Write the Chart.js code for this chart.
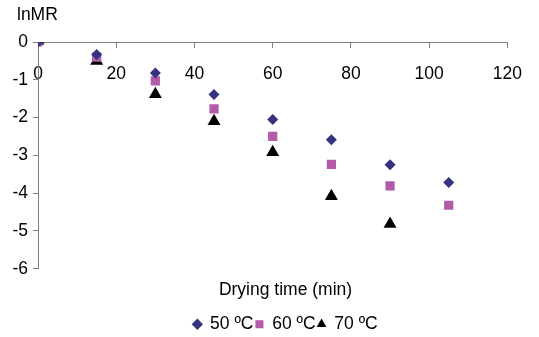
<!DOCTYPE html>
<html>
<head>
<meta charset="utf-8">
<script src="https://cdn.jsdelivr.net/npm/chart.js@4/dist/chart.umd.min.js"></script>
<style>
html,body{margin:0;padding:0;background:#fff;}
#wrap{width:539px;height:337px;position:relative;}
</style>
</head>
<body>
<div id="wrap"><canvas id="c"></canvas></div>
<script>
const times = [0, 15, 30, 45, 60, 75, 90, 105];
const times70 = [0, 15, 30, 45, 60, 75, 90];
const lnMR50 = [0, -0.33, -0.82, -1.39, -2.05, -2.59, -3.25, -3.72];
const lnMR60 = [0, -0.40, -1.03, -1.77, -2.50, -3.24, -3.81, -4.32];
const lnMR70 = [0.03, -0.50, -1.38, -2.10, -2.92, -4.08, -4.82];
const seriesLabels = ['50 ºC', '60 ºC', '70 ºC'];
const xTicks = [0, 20, 40, 60, 80, 100, 120];
const yTicks = [0, -1, -2, -3, -4, -5, -6];
const yTitle = 'lnMR';
const xTitle = 'Drying time (min)';

const FONT = "'Liberation Sans', Arial, sans-serif";
const FS = 17.5;
const pts = (xs, ys) => xs.map((x, i) => ({x: x, y: ys[i]}));

const yTitlePlugin = {
  id: 'yTitleText',
  afterDraw(chart) {
    const ctx = chart.ctx;
    ctx.save();
    ctx.font = FS + 'px ' + FONT;
    ctx.fillStyle = '#000';
    ctx.textBaseline = 'middle';
    ctx.textAlign = 'left';
    ctx.fillText(yTitle, chart.chartArea.left - 21, 15);
    ctx.restore();
  }
};

new Chart(document.getElementById('c'), {
  type: 'scatter',
  data: {
    datasets: [
      {label: seriesLabels[0], data: pts(times, lnMR50), pointStyle: 'rectRot', pointRadius: 5.5, backgroundColor: '#33337f', borderColor: '#33337f', borderWidth: 0},
      {label: seriesLabels[1], data: pts(times, lnMR60), pointStyle: 'rect', pointRadius: 6.5, backgroundColor: '#b35aab', borderColor: '#b35aab', borderWidth: 0},
      {label: seriesLabels[2], data: pts(times70, lnMR70), pointStyle: 'triangle', pointRadius: 7.5, backgroundColor: '#000000', borderColor: '#000000', borderWidth: 0}
    ]
  },
  options: {
    responsive: true,
    maintainAspectRatio: false,
    animation: false,
    events: [],
    layout: {padding: {left: 8, right: -24, top: 42, bottom: -6}},
    scales: {
      x: {
        type: 'linear',
        position: {y: 0},
        min: 0, max: 120,
        afterBuildTicks: (s) => { s.ticks = xTicks.map(v => ({value: v})); },
        ticks: {color: '#000', font: {family: FONT, size: FS}, padding: 17, maxRotation: 0},
        grid: {display: true, drawOnChartArea: false, drawTicks: true, tickLength: 5, color: '#808080'},
        border: {display: true, color: '#808080'}
      },
      y: {
        type: 'linear',
        position: 'left',
        min: -6, max: 0,
        afterBuildTicks: (s) => { s.ticks = yTicks.map(v => ({value: v})); },
        afterFit: (s) => { s.width = 30; },
        ticks: {color: '#000', font: {family: FONT, size: FS}, padding: 5},
        grid: {display: true, drawOnChartArea: false, drawTicks: true, tickLength: 5, color: '#808080'},
        border: {display: true, color: '#808080'}
      },
      yRightSpace: {
        type: 'linear',
        position: 'right',
        display: true,
        afterFit: (s) => { s.width = 53; },
        ticks: {display: false},
        grid: {display: false},
        border: {display: false}
      }
    },
    plugins: {
      title: {display: false},
      subtitle: {display: true, text: xTitle, position: 'bottom', color: '#000', font: {family: FONT, size: FS, weight: 'normal'}, padding: {top: 10.5, bottom: 13.3}},
      legend: {
        display: true, position: 'bottom', weight: 1600,
        labels: {usePointStyle: true, boxWidth: 8, boxHeight: 8, padding: 2, color: '#000', font: {family: FONT, size: FS}}
      },
      tooltip: {enabled: false}
    }
  },
  plugins: [yTitlePlugin]
});
</script>
</body>
</html>
